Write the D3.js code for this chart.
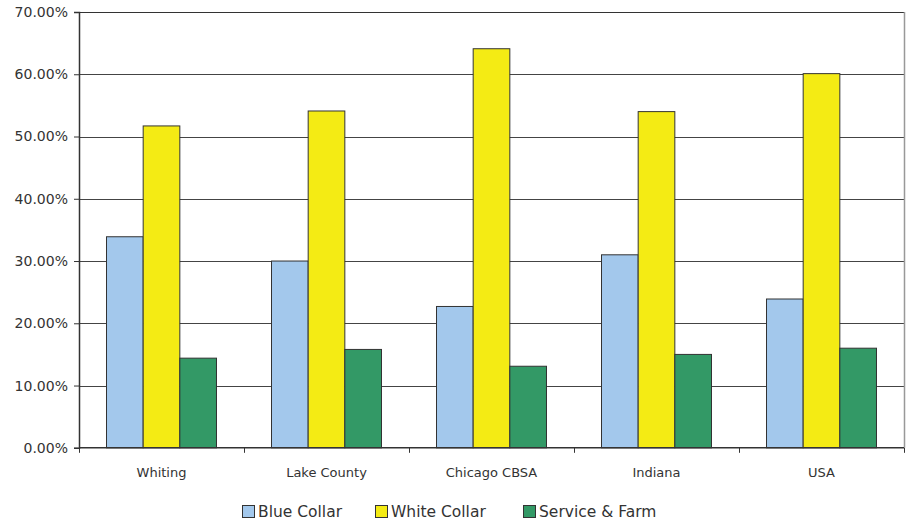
<!DOCTYPE html>
<html>
<head>
<meta charset="utf-8">
<script src="https://cdn.jsdelivr.net/npm/d3@7"></script>
<style>
  html, body { margin: 0; padding: 0; background: #fff; }
  svg { display: block; font-family: "DejaVu Sans", sans-serif; }
</style>
</head>
<body>
<svg id="chart" width="907" height="523"></svg>
<script>
const categories = ["Whiting", "Lake County", "Chicago CBSA", "Indiana", "USA"];
const seriesNames = ["Blue Collar", "White Collar", "Service & Farm"];
const blueCollar = [33.9, 30.0, 22.7, 31.0, 23.9];
const whiteCollar = [51.7, 54.1, 64.1, 54.0, 60.1];
const serviceFarm = [14.4, 15.8, 13.1, 15.0, 16.0];
const yTicks = [0, 10, 20, 30, 40, 50, 60, 70];
const colors = ["#A3C8EC", "#F4EB14", "#339966"];

const seriesValues = [blueCollar, whiteCollar, serviceFarm];
const svg = d3.select("#chart");
const plotLeft = 79, plotRight = 904, plotTop = 12, plotBottom = 447.8;

const x0 = d3.scaleBand().domain(categories).range([plotLeft, plotRight]).paddingInner(0).paddingOuter(0);
const bw = x0.bandwidth();
const x1 = d3.scaleBand().domain(seriesNames).range([bw * 0.1667, bw * 0.8333]).padding(0);
const y = d3.scaleLinear().domain([0, 70]).range([plotBottom, plotTop]);

// gridlines
svg.append("g").selectAll("line").data(yTicks.filter(d => d > 0)).join("line")
  .attr("x1", plotLeft).attr("x2", plotRight)
  .attr("y1", d => Math.round(y(d)) + 0.5).attr("y2", d => Math.round(y(d)) + 0.5)
  .attr("stroke", d => d === 70 ? "#333" : "#444").attr("stroke-width", 1);

// right border
svg.append("line").attr("x1", plotRight + 0.5).attr("x2", plotRight + 0.5)
  .attr("y1", plotTop).attr("y2", plotBottom).attr("stroke", "#999").attr("stroke-width", 1.5);

// bars
const groups = svg.append("g").selectAll("g").data(categories).join("g")
  .attr("transform", d => `translate(${x0(d)},0)`);
groups.selectAll("rect").data((c, i) => seriesNames.map((s, j) => ({ s, j, v: seriesValues[j][i] })))
  .join("rect")
  .attr("x", d => x1(d.s))
  .attr("width", x1.bandwidth())
  .attr("y", d => y(d.v))
  .attr("height", d => plotBottom - y(d.v))
  .attr("fill", d => colors[d.j])
  .attr("stroke", "#333")
  .attr("stroke-width", 1);

// y axis
const yAxis = d3.axisLeft(y).tickValues(yTicks).tickSize(5).tickPadding(6)
  .tickFormat(d => d.toFixed(2) + "%");
const gy = svg.append("g").attr("transform", `translate(${plotLeft},0)`).call(yAxis);
gy.select(".domain").attr("stroke", "#333").attr("stroke-width", 1.5);
gy.selectAll(".tick line").attr("stroke", "#333");
gy.selectAll("text").attr("font-size", 14).attr("fill", "#333")
  .attr("font-family", "DejaVu Sans, sans-serif");

// x axis
const gx = svg.append("g").attr("transform", `translate(0,${plotBottom})`);
gx.append("line").attr("x1", plotLeft).attr("x2", plotRight).attr("y1", 0).attr("y2", 0)
  .attr("stroke", "#333").attr("stroke-width", 1.5);
const boundaries = categories.map(c => x0(c)).concat([plotRight]);
gx.selectAll("line.tk").data(boundaries).join("line").attr("class", "tk")
  .attr("x1", d => Math.round(d) + 0.5).attr("x2", d => Math.round(d) + 0.5)
  .attr("y1", 0).attr("y2", 5).attr("stroke", "#333");
gx.selectAll("text").data(categories).join("text")
  .attr("x", d => x0(d) + bw / 2).attr("y", 29)
  .attr("text-anchor", "middle").attr("font-size", 13).attr("fill", "#333")
  .text(d => d);

// legend
const legendX = [242, 375, 523];
const lg = svg.append("g").selectAll("g").data(seriesNames).join("g")
  .attr("transform", (d, i) => `translate(${legendX[i]},505)`);
lg.append("rect").attr("x", 0.5).attr("y", 0.5).attr("width", 12).attr("height", 12)
  .attr("fill", (d, i) => colors[i]).attr("stroke", "#333");
lg.append("text").attr("x", 16).attr("y", 12).attr("font-size", 15.5).attr("fill", "#333")
  .text(d => d);
</script>
</body>
</html>
